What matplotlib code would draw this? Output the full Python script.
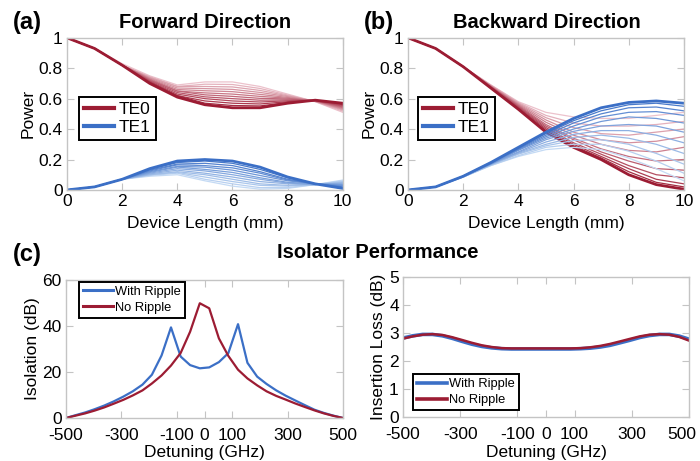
import numpy as np
import matplotlib
matplotlib.use("Agg")
import matplotlib.pyplot as plt
from matplotlib.colors import to_rgb
from matplotlib.transforms import ScaledTranslation

plt.rcParams['font.family'] = ['Liberation Sans', 'DejaVu Sans']
plt.rcParams['axes.unicode_minus'] = False

# device length (mm)
length_mm = [0, 1, 2, 3, 4, 5, 6, 7, 8, 9, 10]

# forward direction, darkest curve first
fwd_te0 = [
    [1.00, 0.93, 0.82, 0.700, 0.61, 0.560, 0.540, 0.540, 0.570, 0.590, 0.570],
    [1.00, 0.93, 0.82, 0.705, 0.62, 0.570, 0.555, 0.552, 0.575, 0.590, 0.565],
    [1.00, 0.93, 0.82, 0.710, 0.62, 0.585, 0.570, 0.565, 0.580, 0.589, 0.560],
    [1.00, 0.93, 0.82, 0.713, 0.63, 0.600, 0.585, 0.578, 0.586, 0.588, 0.555],
    [1.00, 0.93, 0.82, 0.718, 0.64, 0.612, 0.600, 0.590, 0.592, 0.587, 0.550],
    [1.00, 0.93, 0.82, 0.722, 0.65, 0.625, 0.615, 0.602, 0.598, 0.586, 0.545],
    [1.00, 0.93, 0.82, 0.727, 0.65, 0.638, 0.630, 0.615, 0.603, 0.585, 0.540],
    [1.00, 0.93, 0.82, 0.731, 0.66, 0.652, 0.646, 0.628, 0.608, 0.584, 0.535],
    [1.00, 0.93, 0.82, 0.736, 0.67, 0.666, 0.661, 0.641, 0.614, 0.583, 0.530],
    [1.00, 0.93, 0.82, 0.740, 0.68, 0.680, 0.677, 0.654, 0.619, 0.582, 0.525],
    [1.00, 0.93, 0.82, 0.745, 0.68, 0.695, 0.693, 0.667, 0.624, 0.581, 0.518],
    [1.00, 0.93, 0.83, 0.750, 0.69, 0.710, 0.710, 0.680, 0.630, 0.580, 0.510],
]
fwd_te1 = [
    [0.00, 0.02, 0.07, 0.140, 0.190, 0.200, 0.190, 0.150, 0.085, 0.040, 0.010],
    [0.00, 0.02, 0.07, 0.135, 0.180, 0.190, 0.175, 0.135, 0.080, 0.040, 0.015],
    [0.00, 0.02, 0.07, 0.130, 0.170, 0.175, 0.160, 0.120, 0.070, 0.040, 0.020],
    [0.00, 0.02, 0.07, 0.125, 0.165, 0.160, 0.145, 0.110, 0.065, 0.040, 0.025],
    [0.00, 0.02, 0.07, 0.120, 0.155, 0.150, 0.130, 0.095, 0.060, 0.040, 0.030],
    [0.00, 0.02, 0.07, 0.115, 0.150, 0.135, 0.115, 0.080, 0.050, 0.040, 0.035],
    [0.00, 0.02, 0.07, 0.110, 0.140, 0.125, 0.100, 0.070, 0.045, 0.035, 0.040],
    [0.00, 0.02, 0.07, 0.105, 0.130, 0.110, 0.085, 0.055, 0.040, 0.035, 0.045],
    [0.00, 0.02, 0.07, 0.100, 0.120, 0.100, 0.070, 0.040, 0.030, 0.035, 0.050],
    [0.00, 0.02, 0.07, 0.100, 0.115, 0.085, 0.055, 0.030, 0.025, 0.035, 0.055],
    [0.00, 0.02, 0.07, 0.095, 0.110, 0.070, 0.040, 0.015, 0.015, 0.035, 0.060],
    [0.00, 0.02, 0.07, 0.090, 0.100, 0.060, 0.025, 0.005, 0.010, 0.035, 0.065],
]

# backward direction, darkest curve first
bwd_te0 = [
    [1.00, 0.93, 0.81, 0.670, 0.530, 0.380, 0.280, 0.200, 0.100, 0.035, 0.005],
    [1.00, 0.93, 0.81, 0.670, 0.535, 0.390, 0.290, 0.210, 0.120, 0.050, 0.020],
    [1.00, 0.93, 0.81, 0.675, 0.540, 0.400, 0.300, 0.220, 0.140, 0.070, 0.040],
    [1.00, 0.93, 0.81, 0.675, 0.545, 0.410, 0.310, 0.235, 0.160, 0.100, 0.080],
    [1.00, 0.93, 0.81, 0.680, 0.550, 0.420, 0.330, 0.250, 0.190, 0.140, 0.130],
    [1.00, 0.93, 0.81, 0.680, 0.555, 0.430, 0.340, 0.270, 0.220, 0.190, 0.200],
    [1.00, 0.93, 0.81, 0.680, 0.560, 0.445, 0.360, 0.300, 0.260, 0.250, 0.280],
    [1.00, 0.93, 0.81, 0.685, 0.565, 0.460, 0.380, 0.330, 0.310, 0.320, 0.350],
    [1.00, 0.93, 0.81, 0.685, 0.570, 0.475, 0.410, 0.370, 0.360, 0.380, 0.400],
    [1.00, 0.93, 0.81, 0.690, 0.575, 0.490, 0.440, 0.420, 0.420, 0.430, 0.450],
    [1.00, 0.93, 0.81, 0.690, 0.580, 0.510, 0.480, 0.470, 0.470, 0.490, 0.510],
]
bwd_te1 = [
    [0.00, 0.02, 0.090, 0.180, 0.280, 0.380, 0.470, 0.540, 0.575, 0.585, 0.570],
    [0.00, 0.02, 0.090, 0.180, 0.275, 0.370, 0.455, 0.520, 0.560, 0.570, 0.550],
    [0.00, 0.02, 0.090, 0.175, 0.270, 0.360, 0.440, 0.500, 0.540, 0.545, 0.520],
    [0.00, 0.02, 0.090, 0.175, 0.265, 0.350, 0.420, 0.480, 0.510, 0.515, 0.490],
    [0.00, 0.02, 0.090, 0.170, 0.260, 0.340, 0.400, 0.450, 0.480, 0.470, 0.440],
    [0.00, 0.02, 0.090, 0.170, 0.250, 0.330, 0.385, 0.420, 0.430, 0.420, 0.380],
    [0.00, 0.02, 0.090, 0.170, 0.245, 0.315, 0.365, 0.390, 0.390, 0.360, 0.310],
    [0.00, 0.02, 0.085, 0.165, 0.240, 0.300, 0.345, 0.360, 0.340, 0.300, 0.240],
    [0.00, 0.02, 0.085, 0.165, 0.235, 0.290, 0.325, 0.330, 0.300, 0.240, 0.170],
    [0.00, 0.02, 0.085, 0.160, 0.225, 0.280, 0.300, 0.300, 0.255, 0.190, 0.110],
    [0.00, 0.02, 0.085, 0.160, 0.220, 0.265, 0.280, 0.265, 0.210, 0.140, 0.060],
]

# isolator performance vs detuning (GHz)
detuning = [-500, -466, -431, -397, -362, -328, -293, -259, -224, -190,
            -155, -121, -86, -52, -17, 17, 52, 86, 121, 155,
            190, 224, 259, 293, 328, 362, 397, 431, 466, 500]
iso_ripple = [0.0, 1.2, 2.4, 3.8, 5.4, 7.2, 9.3, 11.6, 14.5, 18.8,
              27.2, 39.4, 26.7, 23.0, 21.6, 22.0, 24.3, 28.2, 40.8, 24.0,
              18.0, 14.8, 12.0, 9.7, 7.6, 5.6, 3.6, 2.2, 1.0, 0.0]
iso_noripple = [0.0, 1.0, 2.0, 3.2, 4.6, 6.2, 7.9, 9.8, 12.0, 15.0,
                18.5, 22.8, 28.3, 37.5, 49.9, 47.7, 34.6, 27.0, 21.0, 17.2,
                14.2, 11.6, 9.6, 8.0, 6.3, 4.8, 3.3, 2.0, 0.9, 0.0]
il_ripple = [2.82, 2.90, 2.95, 2.95, 2.90, 2.81, 2.70, 2.60, 2.52, 2.47,
             2.44, 2.43, 2.43, 2.43, 2.43, 2.43, 2.43, 2.43, 2.44, 2.46,
             2.50, 2.56, 2.65, 2.74, 2.84, 2.91, 2.95, 2.95, 2.89, 2.78]
il_noripple = [2.80, 2.88, 2.94, 2.96, 2.93, 2.85, 2.75, 2.65, 2.56, 2.50,
               2.46, 2.45, 2.45, 2.45, 2.45, 2.45, 2.45, 2.45, 2.46, 2.49,
               2.54, 2.61, 2.70, 2.79, 2.88, 2.94, 2.96, 2.94, 2.86, 2.73]

det_ticks = [-500, -300, -100, 0, 100, 300, 500]

red = '#9c1c33'
blue = '#3b6fc6'
red_light = '#ecc2cc'
blue_light = '#c4daf4'
frame = '#c4c4c4'


def draw_family(ax, curves, dark, light):
    d = np.array(to_rgb(dark))
    l = np.array(to_rgb(light))
    n = len(curves)
    for k in range(n - 1, -1, -1):
        f = k / (n - 1)
        c = d * (1 - f) + l * f
        ax.plot(length_mm, curves[k], color=c, lw=2.0 if k == 0 else 0.9)


def style(ax, xpad=3):
    for s in ax.spines.values():
        s.set_color(frame)
        s.set_linewidth(1.0)
    ax.tick_params(direction='in', top=True, right=True, color=frame,
                   length=5, labelsize=12.5, pad=3)
    ax.tick_params(axis='x', pad=xpad)


fig = plt.figure(figsize=(7, 4.61), dpi=100)

ax_a = fig.add_axes([0.0957, 0.588, 0.394, 0.330])
ax_b = fig.add_axes([0.5829, 0.588, 0.394, 0.330])
ax_c1 = fig.add_axes([0.0943, 0.0933, 0.3957, 0.2993])
ax_c2 = fig.add_axes([0.5757, 0.0954, 0.4086, 0.3037])

for ax, te0, te1, lx in [(ax_a, fwd_te0, fwd_te1, 0.043),
                         (ax_b, bwd_te0, bwd_te1, 0.036)]:
    draw_family(ax, te0, red, red_light)
    draw_family(ax, te1, blue, blue_light)
    ax.plot([], [], color=red, lw=3, label='TE0')
    ax.plot([], [], color=blue, lw=3, label='TE1')
    ax.set_xlim(0, 10)
    ax.set_ylim(0, 1)
    ax.set_xticks([0, 2, 4, 6, 8, 10])
    ax.set_yticks([0, 0.2, 0.4, 0.6, 0.8, 1])
    ax.set_yticklabels(['0', '0.2', '0.4', '0.6', '0.8', '1'])
    ax.set_xlabel('Device Length (mm)', fontsize=12.5, labelpad=5)
    ax.set_ylabel('Power', fontsize=12.5, labelpad=2)
    style(ax)
    h, lab = ax.get_legend_handles_labels()
    leg = ax.legend(h[-2:], lab[-2:], loc='upper left', bbox_to_anchor=(lx, 0.612),
                    borderaxespad=0, fancybox=False, edgecolor='black', framealpha=1,
                    fontsize=12.5, handlelength=1.7, handletextpad=0.3,
                    labelspacing=0.15, borderpad=0.3)
    leg.get_frame().set_linewidth(1.4)

# isolation
ax_c1.plot(detuning, iso_ripple, color=blue, lw=1.6, label='With Ripple')
ax_c1.plot(detuning, iso_noripple, color=red, lw=1.6, label='No Ripple')
ax_c1.set_xlim(-500, 500)
ax_c1.set_ylim(0, 60)
ax_c1.set_yticks([0, 20, 40, 60])
ax_c1.set_ylabel('Isolation (dB)', fontsize=12.5, labelpad=2)
leg = ax_c1.legend(loc='upper left', bbox_to_anchor=(0.047, 0.986), borderaxespad=0,
                   fancybox=False, edgecolor='black', framealpha=1, fontsize=9.3,
                   handlelength=2.3, handletextpad=0.2, labelspacing=0.3, borderpad=0.3)
leg.get_frame().set_linewidth(1.4)
for ln in leg.get_lines():
    ln.set_linewidth(2.2)

# insertion loss
ax_c2.plot(detuning, il_ripple, color=blue, lw=2.6, label='With Ripple')
ax_c2.plot(detuning, il_noripple, color=red, lw=1.8, label='No Ripple')
ax_c2.set_xlim(-500, 500)
ax_c2.set_ylim(0, 5)
ax_c2.set_yticks([0, 1, 2, 3, 4, 5])
ax_c2.set_ylabel('Insertion Loss (dB)', fontsize=12.5, labelpad=2)
leg = ax_c2.legend(loc='lower left', bbox_to_anchor=(0.035, 0.05), borderaxespad=0,
                   fancybox=False, edgecolor='black', framealpha=1, fontsize=9.3,
                   handlelength=2.3, handletextpad=0.2, labelspacing=0.3, borderpad=0.3)
leg.get_frame().set_linewidth(1.4)
for ln in leg.get_lines():
    ln.set_linewidth(2.6)

for ax in (ax_c1, ax_c2):
    ax.set_xticks(det_ticks)
    ax.set_xticklabels([str(t) for t in det_ticks])
    ax.set_xlabel('Detuning (GHz)', fontsize=12.5, labelpad=2)
    style(ax, xpad=7)

# keep the last tick label of the right panel inside the figure
last = ax_c2.get_xticklabels()[-1]
last.set_transform(last.get_transform() + ScaledTranslation(-5 / 72, 0, fig.dpi_scale_trans))

fig.text(0.039, 0.951, '(a)', fontsize=17, fontweight='bold', ha='center', va='center')
fig.text(0.293, 0.951, 'Forward Direction', fontsize=14.5, fontweight='bold', ha='center', va='center')
fig.text(0.542, 0.951, '(b)', fontsize=17, fontweight='bold', ha='center', va='center')
fig.text(0.781, 0.951, 'Backward Direction', fontsize=14.5, fontweight='bold', ha='center', va='center')
fig.text(0.039, 0.449, '(c)', fontsize=17, fontweight='bold', ha='center', va='center')
fig.text(0.539, 0.453, 'Isolator Performance', fontsize=14.5, fontweight='bold', ha='center', va='center')

fig.savefig('out.png', dpi=100)
